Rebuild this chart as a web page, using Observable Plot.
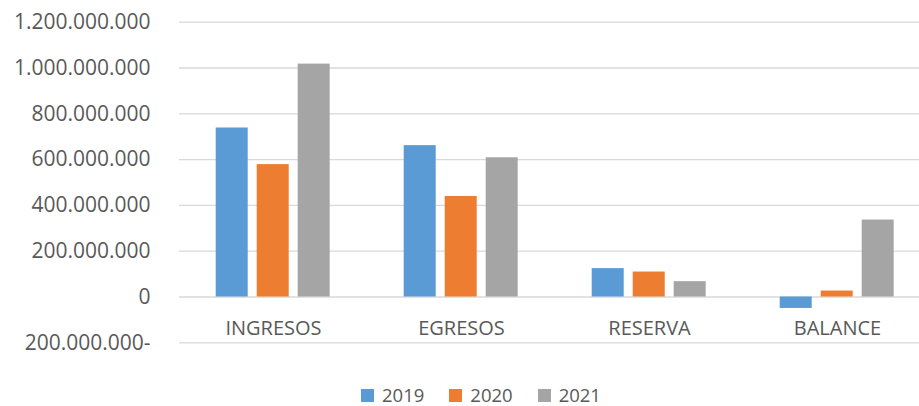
<!DOCTYPE html>
<html>
<head>
<meta charset="utf-8">
<script src="https://cdn.jsdelivr.net/npm/d3@7"></script>
<script src="https://cdn.jsdelivr.net/npm/@observablehq/plot@0.6"></script>
<style>
  html, body { margin: 0; padding: 0; background: white; overflow: hidden; width: 919px; height: 406px; }
  #legend { position: relative; height: 34px; font-family: "Open Sans", sans-serif; font-size: 18.5px; line-height: 20px; color: #595959; }
  #legend .items { position: absolute; left: 361px; top: 13px; height: 20px; display: flex; align-items: center; }
  #legend .item { display: flex; align-items: center; margin-right: 25px; }
  #legend .sw { width: 13px; height: 13px; margin-right: 8px; }
</style>
</head>
<body>
<div id="chart"></div>
<div id="legend"><div class="items"></div></div>
<script>
const categories = ["INGRESOS", "EGRESOS", "RESERVA", "BALANCE"];
const years = ["2019", "2020", "2021"];
const values2019 = [738e6, 661e6, 124e6, -50e6];
const values2020 = [578e6, 439e6, 109e6, 26e6];
const values2021 = [1017e6, 608e6, 67e6, 336e6];
const yTicks = [-200e6, 0, 200e6, 400e6, 600e6, 800e6, 1000e6, 1200e6];
const colors = ["#5B9BD5", "#ED7D31", "#A5A5A5"];

const series = [values2019, values2020, values2021];
const data = categories.flatMap((c, i) => years.map((y, j) => ({category: c, year: y, value: series[j][i]})));

const loc = d3.formatLocale({decimal: ",", thousands: ".", grouping: [3], currency: ["", ""]});
const f = loc.format(",d");
const fmt = v => v < 0 ? f(-v) + "-" : f(v);

const chart = Plot.plot({
  width: 919,
  height: 372,
  marginLeft: 178.3,
  marginRight: -12.5,
  marginTop: 21.7,
  marginBottom: 29.7,
  style: {fontFamily: "'Open Sans', sans-serif", color: "#595959", background: "white"},
  fx: {domain: categories, padding: 0, label: null},
  x: {domain: years, paddingInner: 0.209, paddingOuter: 0.862, axis: null},
  y: {domain: [-200e6, 1200e6], axis: null, label: null},
  color: {domain: years, range: colors},
  marks: [
    Plot.ruleY(yTicks, {stroke: "#D9D9D9", strokeWidth: 1.3}),
    Plot.barY(data, {fx: "category", x: "year", y: "value", fill: "year"}),
    Plot.axisY(yTicks, {tickSize: 0, tickPadding: 29, tickFormat: fmt, fontSize: 21, fill: "#595959", label: null}),
    Plot.axisFx({anchor: "bottom", tickSize: 0, tickPadding: 0, dy: -22, fontSize: 20, fill: "#595959", label: null})
  ]
});
document.getElementById("chart").appendChild(chart);

const items = d3.select("#legend .items");
years.forEach((y, i) => {
  const it = items.append("div").attr("class", "item");
  it.append("div").attr("class", "sw").style("background", colors[i]);
  it.append("span").text(y);
});
</script>
</body>
</html>
